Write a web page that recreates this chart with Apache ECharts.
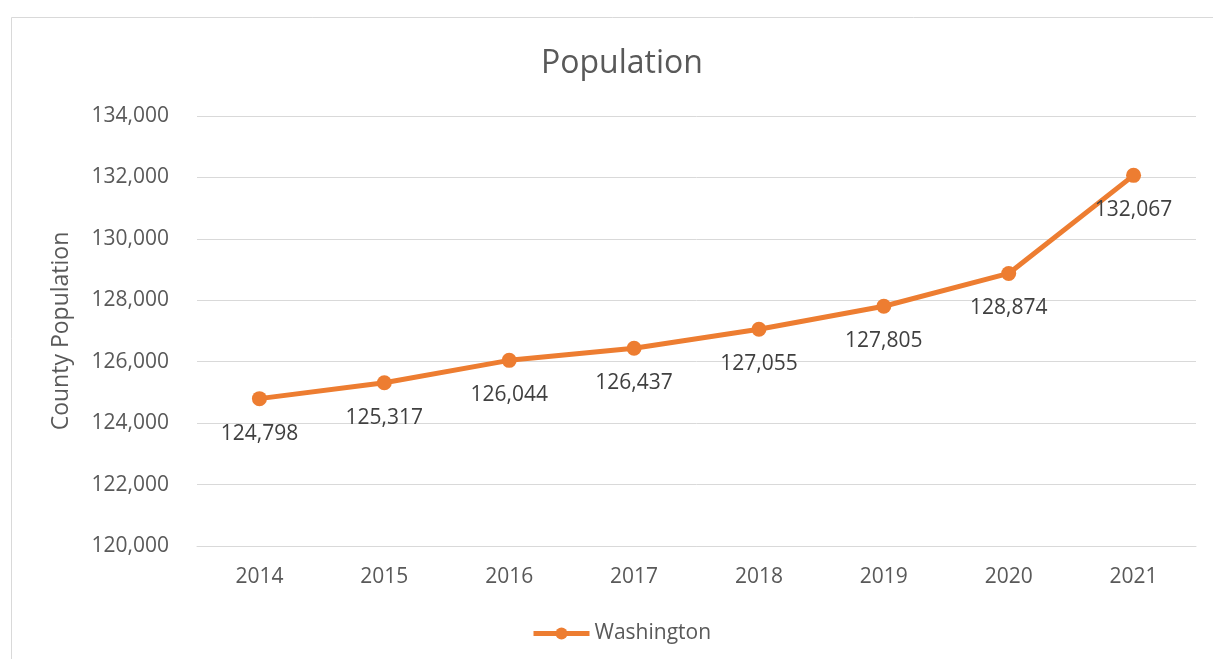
<!DOCTYPE html>
<html>
<head>
<meta charset="utf-8">
<script src="https://cdn.jsdelivr.net/npm/echarts@6/dist/echarts.min.js"></script>
<style>
html,body{margin:0;padding:0;background:#fff;}
#chart{width:1213px;height:659px;}
</style>
</head>
<body>
<div id="chart"></div>
<script>
const categories = ['2014','2015','2016','2017','2018','2019','2020','2021'];
const washington = [124798, 125317, 126044, 126437, 127055, 127805, 128874, 132067];
const seriesName = 'Washington';
const titleText = 'Population';
const yAxisName = 'County Population';

const FONT = '"Open Sans", sans-serif';
const TEXT = '#595959';
const fmt = v => v.toLocaleString('en-US');

const chart = echarts.init(document.getElementById('chart'), null, {renderer: 'canvas'});
chart.setOption({
  backgroundColor: '#ffffff',
  animation: false,
  textStyle: {fontFamily: FONT},
  graphic: [{
    type: 'rect',
    shape: {x: 11.5, y: 17.5, width: 1400, height: 800},
    style: {fill: 'none', stroke: '#d9d9d9', lineWidth: 1},
    silent: true, z: -10
  }],
  title: {
    text: titleText,
    left: 622, top: 48, textAlign: 'center', padding: 0,
    textStyle: {fontFamily: FONT, fontSize: 32, fontWeight: 'normal', color: TEXT}
  },
  legend: {
    data: [seriesName],
    left: 531, top: 623, padding: 0,
    itemWidth: 56, itemHeight: 15, itemGap: 10,
    lineStyle: {width: 5},
    textStyle: {fontFamily: FONT, fontSize: 21, color: TEXT}
  },
  grid: {left: 197, right: 17, top: 116, bottom: 113, containLabel: false},
  xAxis: {
    type: 'category',
    data: categories,
    boundaryGap: true,
    axisLine: {show: true, lineStyle: {color: '#d9d9d9', width: 1}},
    axisTick: {show: false},
    axisLabel: {margin: 21, fontFamily: FONT, fontSize: 21, color: TEXT}
  },
  yAxis: {
    type: 'value',
    min: 120000, max: 134000, interval: 2000,
    name: yAxisName,
    nameLocation: 'middle',
    nameGap: 124,
    nameTextStyle: {fontFamily: FONT, fontSize: 23, color: TEXT},
    axisLine: {show: false},
    axisTick: {show: false},
    splitLine: {lineStyle: {color: '#d9d9d9', width: 1}},
    axisLabel: {margin: 28, fontFamily: FONT, fontSize: 21, color: TEXT, formatter: fmt}
  },
  series: [{
    name: seriesName,
    type: 'line',
    data: washington,
    symbol: 'circle',
    symbolSize: 15,
    itemStyle: {color: '#ED7D31'},
    lineStyle: {color: '#ED7D31', width: 5},
    label: {
      show: true,
      position: 'inside',
      offset: [0, 35],
      fontFamily: FONT, fontSize: 21, color: '#404040',
      formatter: p => fmt(p.value)
    }
  }]
});
</script>
</body>
</html>
